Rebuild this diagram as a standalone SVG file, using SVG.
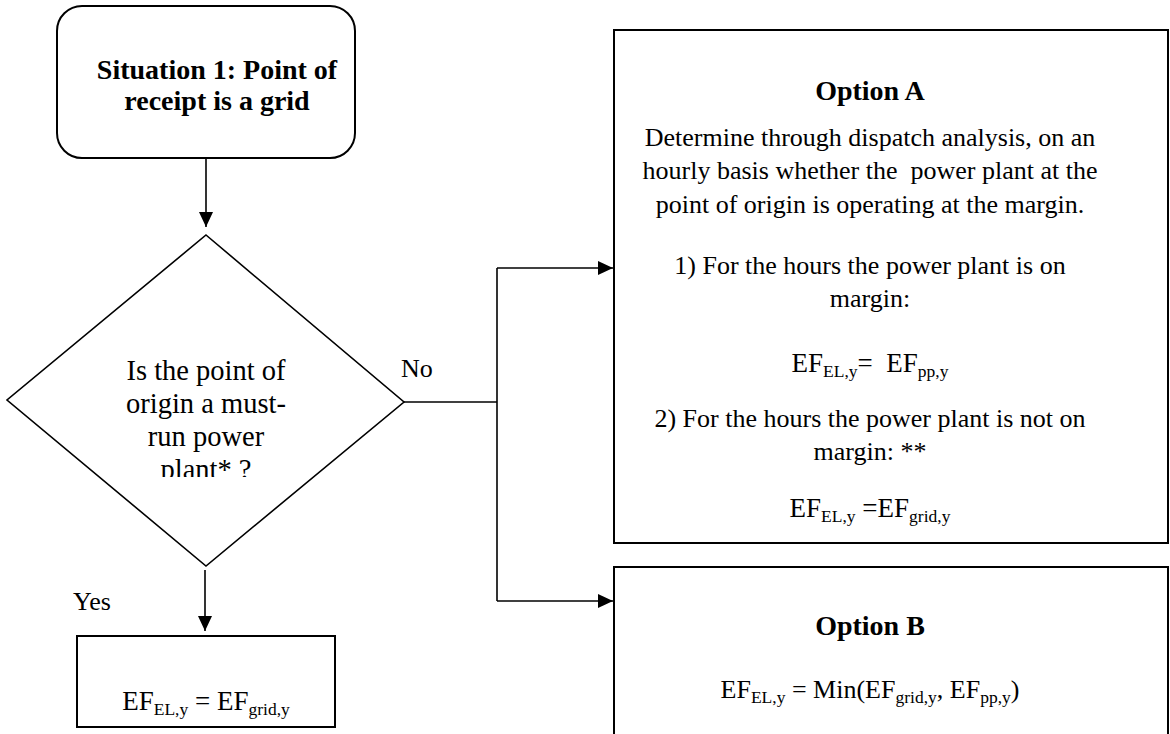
<svg xmlns="http://www.w3.org/2000/svg" width="1170" height="734" viewBox="0 0 1170 734">
<style>
.box{fill:#fff;stroke:#000;stroke-width:2}
.dia{fill:#fff;stroke:#000;stroke-width:1.6}
.ln{fill:none;stroke:#000;stroke-width:1.6}
text{font-family:"Liberation Serif","Times New Roman",serif;font-size:26px;fill:#000}
.c{text-anchor:middle}
.b{font-weight:bold;font-size:28px}
.d{font-size:28.5px}
.s{font-size:17.5px}
</style>
<defs>
<marker id="ah" viewBox="0 0 15 14" refX="15" refY="7" markerWidth="15" markerHeight="14" markerUnits="userSpaceOnUse" orient="auto">
<path d="M0,0 L15,7 L0,14 Z" fill="#000"/>
</marker>
<clipPath id="dclip"><rect x="90" y="340" width="240" height="137"/></clipPath>
</defs>
<rect width="1170" height="734" fill="#fff"/>
<g id="connectors">
<line class="ln" x1="206" y1="158" x2="206" y2="227" marker-end="url(#ah)"/>
<line class="ln" x1="205" y1="570" x2="205" y2="631" marker-end="url(#ah)"/>
<polyline class="ln" points="404,402 497,402"/>
<polyline class="ln" points="497,268 497,601"/>
<line class="ln" x1="497" y1="268" x2="613" y2="268" marker-end="url(#ah)"/>
<line class="ln" x1="497" y1="601" x2="613" y2="601" marker-end="url(#ah)"/>
<text x="401" y="377">No</text>
<text x="73" y="610">Yes</text>
</g>
<g id="start">
<rect class="box" x="57" y="6" width="298" height="152" rx="25"/>
<text class="c b" x="217" y="79">Situation 1: Point of</text>
<text class="c b" x="217" y="110">receipt is a grid</text>
</g>
<g id="decision">
<polygon class="dia" points="206,235 404,402 206,566 7,400"/>
<g clip-path="url(#dclip)">
<text class="c d" x="206" y="380">Is the point of</text>
<text class="c d" x="206" y="413">origin a must-</text>
<text class="c d" x="206" y="446">run power</text>
<text class="c d" x="206" y="479">plant* ?</text>
</g>
</g>
<g id="yes-box">
<rect class="box" x="77" y="636" width="258" height="91"/>
<text class="c" x="206" y="710" style="font-size:27px">EF<tspan class="s" dy="5">EL,y</tspan><tspan dy="-5"> = EF</tspan><tspan class="s" dy="5">grid,y</tspan></text>
</g>
<g id="option-a">
<rect class="box" x="614" y="30" width="554" height="513"/>
<text class="c b" x="870" y="100">Option A</text>
<text class="c" x="870" y="146"> Determine through dispatch analysis, on an</text>
<text class="c" x="870" y="179" xml:space="preserve">hourly basis whether the  power plant at the</text>
<text class="c" x="870" y="213">point of origin is operating at the margin.</text>
<text class="c" x="870" y="274">1) For the hours the power plant is on</text>
<text class="c" x="870" y="307">margin:</text>
<text class="c" x="870" y="372" xml:space="preserve" style="font-size:27px">EF<tspan class="s" dy="5">EL,y</tspan><tspan dy="-5">=  EF</tspan><tspan class="s" dy="5">pp,y</tspan></text>
<text class="c" x="870" y="427">2) For the hours the power plant is not on</text>
<text class="c" x="870" y="460">margin: **</text>
<text class="c" x="870" y="517" style="font-size:27px">EF<tspan class="s" dy="5">EL,y</tspan><tspan dy="-5"> =EF</tspan><tspan class="s" dy="5">grid,y</tspan></text>
</g>
<g id="option-b">
<rect class="box" x="614" y="567" width="554" height="180"/>
<text class="c b" x="870" y="635">Option B</text>
<text class="c" x="870" y="698">EF<tspan class="s" dy="5">EL,y</tspan><tspan dy="-5"> = Min(EF</tspan><tspan class="s" dy="5">grid,y</tspan><tspan dy="-5">, EF</tspan><tspan class="s" dy="5">pp,y</tspan><tspan dy="-5">)</tspan></text>
</g>
</svg>
